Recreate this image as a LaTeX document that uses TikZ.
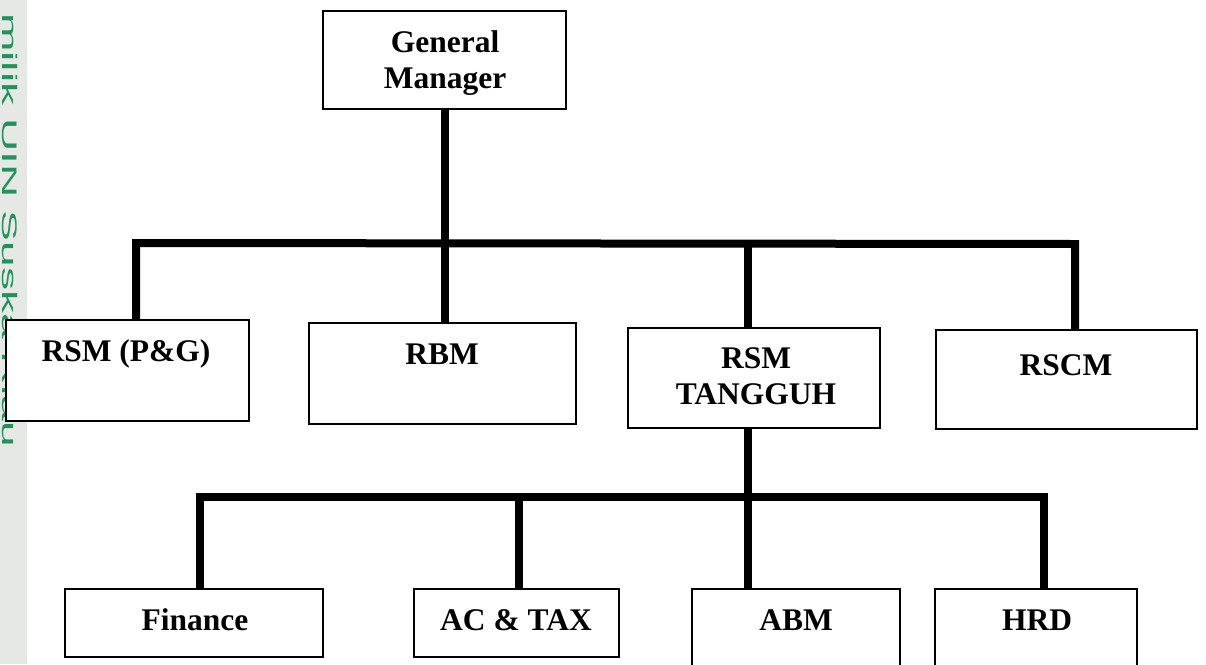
\documentclass[tikz,border=0pt]{standalone}
\usepackage{fontspec}
\setmainfont{Liberation Serif}
\newfontfamily\wmfont{Liberation Sans}
\definecolor{wmgreen}{HTML}{23925A}
\definecolor{wmgrey}{HTML}{E6E8E5}
\begin{document}
\begin{tikzpicture}[x=1pt,y=-1pt,
  box/.style={draw=black,line width=1.3pt,fill=white,rectangle,inner sep=0pt},
  lbl/.style={font=\fontsize{31.5}{36}\selectfont\bfseries,inner sep=0pt,anchor=base,align=center},
  conn/.style={line width=8pt,line join=miter,line cap=butt}]
\useasboundingbox (0,0) rectangle (1206,664);
\clip (0,0) rectangle (1206,664);
% watermark strip
\fill[wmgrey] (0,0) rectangle (27,664);
\node[rotate=-90,anchor=base west,inner sep=0pt,text=wmgreen,font=\wmfont\fontsize{21}{21}\selectfont] (wm) at (2,13) {\scalebox{2.2}[1]{milik UIN Suska Riau}};
% coordinates of buses
\coordinate (b1L) at (136,243);
\coordinate (b1R) at (1075,244);
\coordinate (t1) at (748,244);
\coordinate (b2L) at (200,497);
\coordinate (b2A) at (519,497);
\coordinate (b2M) at (748,497);
\coordinate (b2R) at (1044,497);
% boxes
\node[box,minimum width=243pt,minimum height=98pt] (gm) at (444.5,60) {};
\node[box,minimum width=243pt,minimum height=101pt] (rsmpg) at (127.5,370.5) {};
\node[box,minimum width=267pt,minimum height=101pt] (rbm) at (442.5,373.5) {};
\node[box,minimum width=252pt,minimum height=100pt] (rsmt) at (754,378) {};
\node[box,minimum width=261pt,minimum height=99pt] (rscm) at (1066.5,379.5) {};
\node[box,minimum width=258pt,minimum height=68pt] (fin) at (194,623) {};
\node[box,minimum width=205pt,minimum height=68pt] (act) at (516.5,623) {};
\node[box,minimum width=208pt,minimum height=100pt] (abm) at (796,639) {};
\node[box,minimum width=202pt,minimum height=100pt] (hrd) at (1036,639) {};
% labels
\node[lbl] (gmt) at (445,88.5) {General\\Manager};
\node[lbl] (rsmpgt) at (126,361.5) {RSM (P\&G)};
\node[lbl] (rbmt) at (442,364.5) {RBM};
\node[lbl] (rsmtt) at (756,404.5) {RSM\\TANGGUH};
\node[lbl] (rscmt) at (1066,375.5) {RSCM};
\node[lbl] (fint) at (195,630.5) {Finance};
\node[lbl] (actt) at (516,630.5) {AC \& TAX};
\node[lbl] (abmt) at (796,630.5) {ABM};
\node[lbl] (hrdt) at (1037,630.5) {HRD};
% connectors
\draw[conn] (gm.south) -- (gm.south |- rbm.north);
\draw[conn] (b1L |- rsmpg.north) -- (b1L) -- (b1R) -- (b1R |- rscm.north);
\draw[conn] (t1) -- (t1 |- rsmt.north);
\draw[conn] (rsmt.south -| b2M) -- (b2M |- abm.north);
\draw[conn] (b2L |- fin.north) -- (b2L) -- (b2R) -- (b2R |- hrd.north);
\draw[conn] (b2A) -- (b2A |- act.north);
\end{tikzpicture}
\end{document}
